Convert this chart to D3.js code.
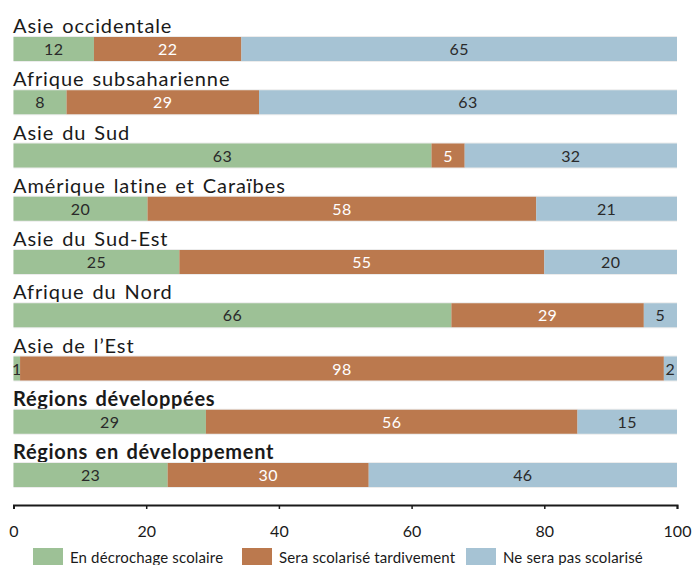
<!DOCTYPE html>
<html>
<head>
<meta charset="utf-8">
<script src="https://cdn.jsdelivr.net/npm/d3@7"></script>
<style>
  body { margin: 0; background: #fff; }
  svg { display: block; font-family: Lato, "Open Sans", sans-serif; }
</style>
</head>
<body>
<div id="chart"></div>
<script>
// Régions (libellés affichés au-dessus des barres)
const regions = [
    "Asie occidentale",
    "Afrique subsaharienne",
    "Asie du Sud",
    "Amérique latine et Caraïbes",
    "Asie du Sud-Est",
    "Afrique du Nord",
    "Asie de l\u2019Est",
    "Régions développées",
    "Régions en développement"
];
const boldRegions = ["Régions développées", "Régions en développement"];

// Séries (en %)
const decrochage = [12, 8, 63, 20, 25, 66, 1, 29, 23];
const tardif     = [22, 29, 5, 58, 55, 29, 98, 56, 30];
const jamais     = [65, 63, 32, 21, 20, 5, 2, 15, 46];

const seriesKeys = ["decrochage", "tardif", "jamais"];
const seriesNames = ["En décrochage scolaire", "Sera scolarisé tardivement", "Ne sera pas scolarisé"];
const colors = ["#9dc196", "#bb794e", "#a6c3d4"];
const textColors = ["#2a2a2a", "#ffffff", "#2a2a2a"];

const xTicks = [0, 20, 40, 60, 80, 100];

const width = 693, height = 565;
const rowStep = 53.25, barH = 24;

const table = regions.map((r, i) => ({
    region: r,
    decrochage: decrochage[i],
    tardif: tardif[i],
    jamais: jamais[i]
}));

const stack = d3.stack()
    .keys(seriesKeys)
    .offset(d3.stackOffsetExpand);
const layers = stack(table);

const x = d3.scaleLinear().domain([0, 100]).range([13.5, 677]);
const y = d3.scaleBand()
    .domain(regions)
    .range([12, 12 + rowStep * regions.length])
    .padding(0);

const svg = d3.select("#chart").append("svg")
    .attr("width", width)
    .attr("height", height);

// Libellés des régions
svg.selectAll(".region-label")
    .data(regions)
    .enter()
    .append("text")
    .attr("class", "region-label")
    .attr("x", 13)
    .attr("y", d => y(d) + 21)
    .style("font-size", "20px")
    .style("letter-spacing", d => boldRegions.includes(d) ? "0.7px" : "0.9px")
    .style("word-spacing", "2px")
    .style("font-weight", d => boldRegions.includes(d) ? "700" : "400")
    .style("fill", "#1a1a1a")
    .text(d => d);

// Fond clair derrière chaque barre
svg.selectAll(".bar-bg")
    .data(regions)
    .enter()
    .append("rect")
    .attr("x", x(0))
    .attr("y", d => y(d) + 24)
    .attr("width", x(100) - x(0))
    .attr("height", barH + 2)
    .style("fill", "#ececec");

const layerG = svg.selectAll(".layer")
    .data(layers)
    .enter()
    .append("g")
    .attr("class", "layer");

layerG.selectAll("rect")
    .data(d => d.map(v => ({ v, key: d.key, index: d.index })))
    .enter()
    .append("rect")
    .attr("x", d => x(d.v[0] * 100))
    .attr("y", d => y(d.v.data.region) + 25)
    .attr("width", d => x(d.v[1] * 100) - x(d.v[0] * 100))
    .attr("height", barH)
    .style("fill", d => colors[d.index]);

layerG.selectAll("text")
    .data(d => d.map(v => ({ v, key: d.key, index: d.index })))
    .enter()
    .append("text")
    .attr("x", d => {
        const cx = x((d.v[0] + d.v[1]) / 2 * 100);
        return Math.max(cx, 16);
    })
    .attr("y", d => y(d.v.data.region) + 25 + barH / 2 + 6)
    .attr("text-anchor", "middle")
    .style("font-size", "16px")
    .style("letter-spacing", "0.4px")
    .style("fill", d => textColors[d.index])
    .text(d => d.v.data[d.key]);

// Axe des x
const axisG = svg.append("g")
    .attr("transform", "translate(0,505)");
axisG.call(d3.axisBottom(x).tickValues(xTicks).tickSizeInner(4).tickSizeOuter(4).tickPadding(17));
axisG.select(".domain").attr("stroke", "#1a1a1a").attr("stroke-width", 2);
axisG.selectAll(".tick line").attr("stroke", "#1a1a1a").attr("stroke-width", 1.5);
axisG.selectAll(".tick text")
    .style("font-family", "Lato, 'Open Sans', sans-serif")
    .style("font-size", "16px")
    .style("fill", "#1a1a1a");

// Légende
const legendX = [33, 242, 466];
const legend = svg.selectAll(".legend")
    .data(seriesNames)
    .enter()
    .append("g")
    .attr("class", "legend")
    .attr("transform", (d, i) => `translate(${legendX[i]},548)`);

legend.append("rect")
    .attr("width", 30)
    .attr("height", 18)
    .style("fill", (d, i) => colors[i]);

legend.append("text")
    .attr("x", 37)
    .attr("y", 15)
    .style("font-size", "15px")
    .style("letter-spacing", "0.15px")
    .style("fill", "#1a1a1a")
    .text(d => d);
</script>
</body>
</html>
